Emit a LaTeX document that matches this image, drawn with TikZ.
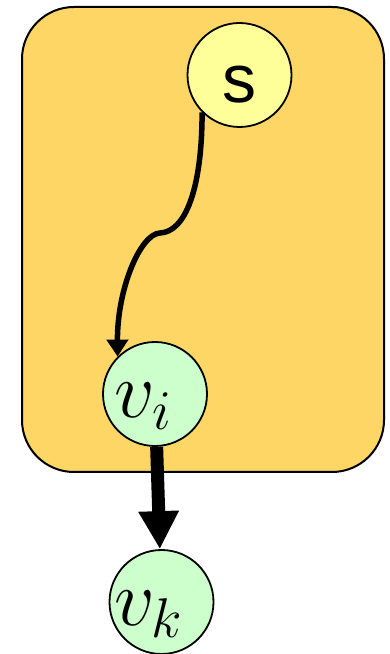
\documentclass[tikz,border=0pt]{standalone}
\usepackage{fix-cm}
\usepackage{fontspec}
\setsansfont{Liberation Sans}
\usetikzlibrary{arrows.meta}
\definecolor{regionfill}{HTML}{FED666}
\definecolor{sourcefill}{HTML}{FFFF99}
\definecolor{vertexfill}{HTML}{CCFFCC}
\tikzstyle{region} = [rectangle, rounded corners=52pt, minimum width=362pt, minimum height=465pt, draw=black, line width=2pt, fill=regionfill]
\tikzstyle{source} = [circle, minimum size=104pt, inner sep=0pt, draw=black, line width=1.8pt, fill=sourcefill, font=\sffamily\fontsize{68}{70}\selectfont, text height=62pt, text depth=6pt]
\tikzstyle{vertex} = [circle, minimum size=104pt, inner sep=0pt, draw=black, line width=1.8pt, fill=vertexfill, font=\fontsize{80}{84}\selectfont, text height=58pt, text depth=10pt]
\tikzstyle{arrow} = [line width=5.5pt, -{Triangle[length=17pt,width=21pt]}]
\tikzstyle{bigarrow} = [line width=13pt, -{Triangle[length=38pt,width=38pt]}]

\begin{document}
\begin{tikzpicture}[x=1pt,y=1pt]
    \useasboundingbox (0,0) rectangle (390,654);

    % Nodes
    \node (box) [region] at (203,414.5) {};
    \node (s) [source] at (239.5,579) {s};
    \node (vi) [vertex] at (155,260) {\makebox[0pt]{$v_i$\hspace{24pt}}};
    \node (vk) [vertex] at (161.5,52) {\makebox[0pt]{$v_k$\hspace{26pt}}};

    % Arrows
    \coordinate (bend) at (160,421);
    \draw [arrow] (s.225) .. controls (202,464) and (185,422) .. (bend) .. controls (140,420) and (117,364) .. (vi.135);
    \draw [bigarrow] (vi) -- (vk);
\end{tikzpicture}
\end{document}
